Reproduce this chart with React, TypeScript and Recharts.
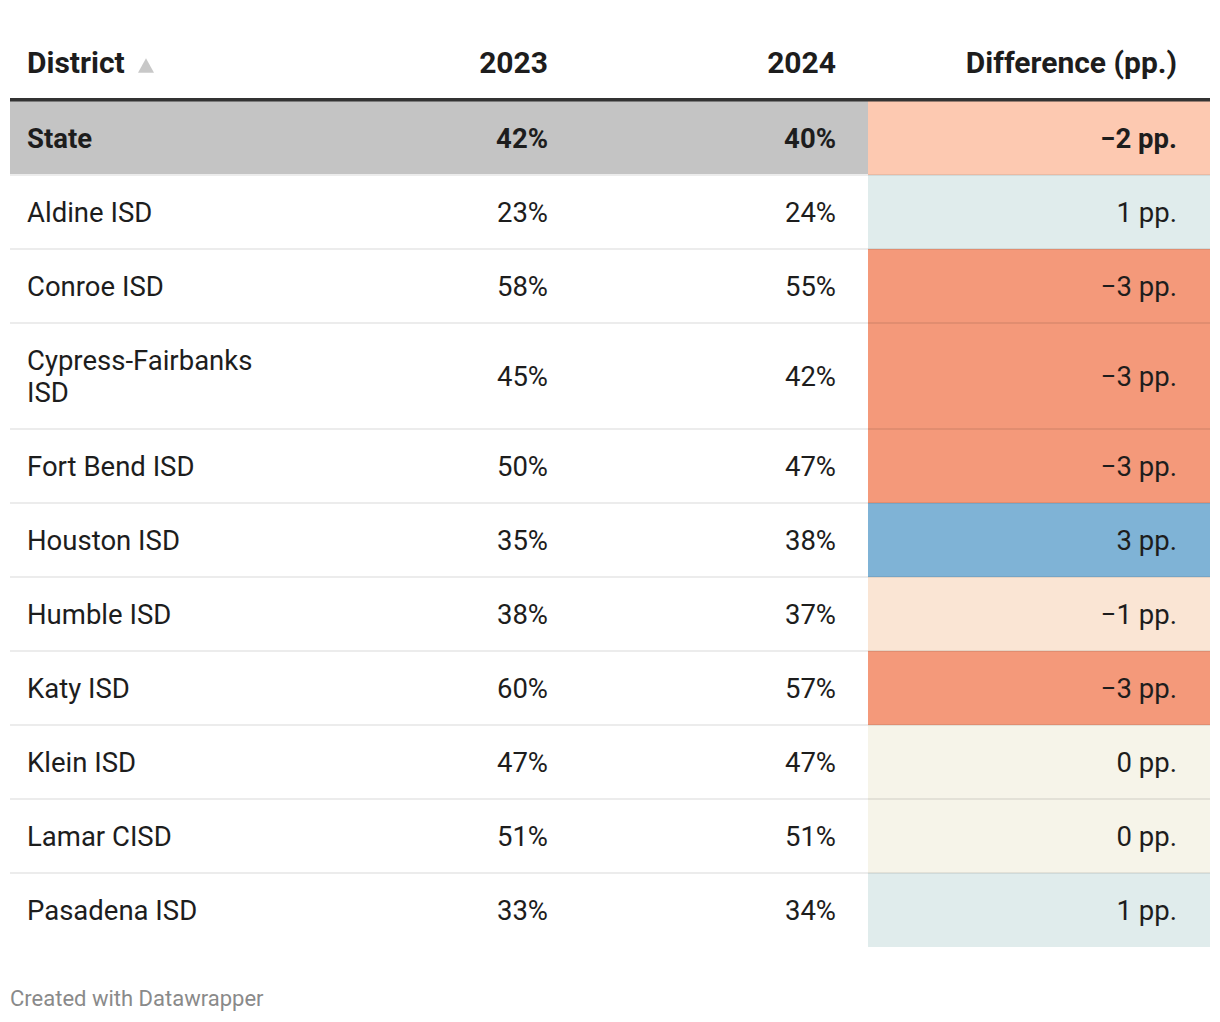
import React from "react";
import { ComposedChart, XAxis, YAxis, Scatter, ReferenceArea, ReferenceLine } from "recharts";

const districts = [
  "State", "Aldine ISD", "Conroe ISD", "Cypress-Fairbanks ISD", "Fort Bend ISD",
  "Houston ISD", "Humble ISD", "Katy ISD", "Klein ISD", "Lamar CISD", "Pasadena ISD",
];
const pct2023 = [42, 23, 58, 45, 50, 35, 38, 60, 47, 51, 33];
const pct2024 = [40, 24, 55, 42, 47, 38, 37, 57, 47, 51, 34];
const columnHeaders = ["District", "2023", "2024", "Difference (pp.)"];
const highlightRows = ["State"];
const diffColors: Record<string, string> = {
  "-3": "#f4997a", "-2": "#fdc9b1", "-1": "#fae5d4",
  "0": "#f6f4e9", "1": "#e0ecec", "2": "#b6d4e6", "3": "#7fb3d6",
};

const W = 1220;
const H = 1022;
const FONT = "Roboto, 'Noto Sans', sans-serif";
const INK = "#1d1d1d";
const TABLE_W = 1200;
const HEAD_MID = 62.5;
const HEAD_FS = 30;
const BODY_FS = 27.5;
const RULE_Y = 99.8;
const BODY_TOP = 101;
const ROW_H = 74;
const LINE_H = 32;
const WRAP = 18;
const COL = { name: 17, v23: 538, v24: 826, diffStart: 858, diff: 1167 };

const fmtPct = (v: number) => `${v}%`;
const fmtDiff = (v: number) => (v < 0 ? `\u2212${Math.abs(v)} pp.` : `${v} pp.`);

function wrap(label: string) {
  const lines: string[] = [];
  let cur = "";
  for (const w of label.split(" ")) {
    const next = cur ? cur + " " + w : w;
    if (next.length > WRAP && cur) { lines.push(cur); cur = w; } else cur = next;
  }
  lines.push(cur);
  return lines;
}

let cursor = BODY_TOP;
const rows = districts.map((d, i) => {
  const lines = wrap(d);
  const h = ROW_H + (lines.length - 1) * LINE_H;
  const row = {
    district: d, lines, top: cursor, bottom: cursor + h, mid: cursor + h / 2,
    v23: pct2023[i], v24: pct2024[i], diff: pct2024[i] - pct2023[i],
    bold: highlightRows.includes(d),
  };
  cursor += h;
  return row;
});
const BODY_BOTTOM = cursor;

type Row = (typeof rows)[number];
const cellData = (x: number, anchor: string, text: (r: Row) => string[]) =>
  rows.map((r) => ({ x, y: r.mid, lines: text(r), anchor, bold: r.bold, fs: BODY_FS }));

const headerData = [
  { x: COL.name, y: HEAD_MID, lines: [columnHeaders[0]], anchor: "start", bold: true, fs: HEAD_FS, sorted: true },
  { x: COL.v23, y: HEAD_MID, lines: [columnHeaders[1]], anchor: "end", bold: true, fs: HEAD_FS },
  { x: COL.v24, y: HEAD_MID, lines: [columnHeaders[2]], anchor: "end", bold: true, fs: HEAD_FS },
  { x: COL.diff, y: HEAD_MID, lines: [columnHeaders[3]], anchor: "end", bold: true, fs: HEAD_FS },
];

function TextCell(props: any) {
  const { cx, cy, payload } = props;
  const n = payload.lines.length;
  const base = cy + payload.fs * 0.36 - ((n - 1) * LINE_H) / 2;
  return (
    <g>
      <text
        x={cx}
        y={base}
        textAnchor={payload.anchor}
        fontFamily={FONT}
        fontSize={payload.fs}
        fontWeight={payload.bold ? 700 : 400}
        fill={INK}
      >
        {payload.lines.map((l: string, i: number) => (
          <tspan key={i} x={cx} dy={i === 0 ? 0 : LINE_H}>{l}</tspan>
        ))}
      </text>
      {payload.sorted && (
        <path d={`M${cx + 111},${base - 0.5} L${cx + 127},${base - 0.5} L${cx + 119},${base - 15} Z`} fill="#c8c8c8" />
      )}
    </g>
  );
}

export default function App() {
  return (
    <div style={{ position: "relative", width: W, height: H, background: "#fff" }}>
      <style>{"body{margin:0}"}</style>
      <ComposedChart width={W} height={H} margin={{ top: 0, right: 10, bottom: H - BODY_BOTTOM, left: 10 }}>
        <XAxis type="number" dataKey="x" domain={[0, TABLE_W]} hide />
        <YAxis type="number" dataKey="y" domain={[0, BODY_BOTTOM]} reversed hide />
        {rows.filter((r) => r.bold).map((r) => (
          <ReferenceArea key={"hl" + r.district} x1={0} x2={COL.diffStart} y1={r.top} y2={r.bottom - 1}
            fill="#c4c4c4" fillOpacity={1} stroke="none" />
        ))}
        {rows.map((r) => (
          <ReferenceArea key={"d" + r.district} x1={COL.diffStart} x2={TABLE_W} y1={r.top} y2={r.bottom}
            fill={diffColors[String(r.diff)] ?? "#eee"} fillOpacity={1} stroke="none" />
        ))}
        {rows.slice(1).map((r) => (
          <ReferenceLine key={"s" + r.district} y={r.top} stroke="rgba(0,0,0,0.075)" strokeWidth={2} />
        ))}
        <ReferenceLine y={RULE_Y} stroke="#333" strokeWidth={3.4} />
        <Scatter data={headerData} shape={TextCell} isAnimationActive={false} />
        <Scatter data={cellData(COL.name, "start", (r) => r.lines)} shape={TextCell} isAnimationActive={false} />
        <Scatter data={cellData(COL.v23, "end", (r) => [fmtPct(r.v23)])} shape={TextCell} isAnimationActive={false} />
        <Scatter data={cellData(COL.v24, "end", (r) => [fmtPct(r.v24)])} shape={TextCell} isAnimationActive={false} />
        <Scatter data={cellData(COL.diff, "end", (r) => [fmtDiff(r.diff)])} shape={TextCell} isAnimationActive={false} />
      </ComposedChart>
      <div style={{
        position: "absolute", left: 10, top: 986, fontFamily: FONT, fontSize: 22,
        lineHeight: "26px", color: "#8a8a8a",
      }}>
        Created with Datawrapper
      </div>
    </div>
  );
}
